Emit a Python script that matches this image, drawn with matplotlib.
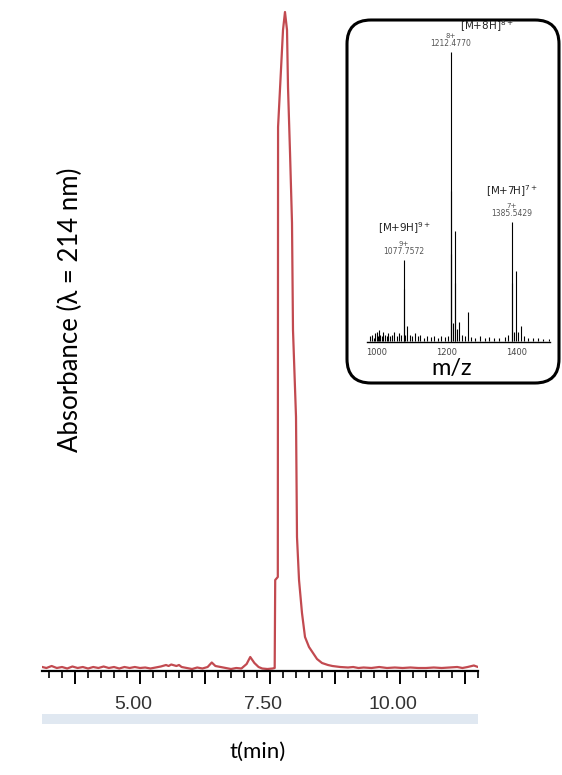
import matplotlib
matplotlib.use("Agg")
import matplotlib.pyplot as plt
import matplotlib.transforms as mtransforms
from matplotlib.patches import FancyBboxPatch, Rectangle
from matplotlib.ticker import MultipleLocator, FuncFormatter

# HPLC trace (time in min, absorbance in arbitrary units)
t_min = [3.12, 3.2, 3.3, 3.4, 3.5, 3.6, 3.7, 3.8, 3.9, 4.0, 4.1, 4.2, 4.3, 4.4,
         4.5, 4.6, 4.7, 4.8, 4.9, 5.0, 5.1, 5.2, 5.3, 5.4, 5.5, 5.55, 5.6, 5.7,
         5.75, 5.8, 5.9, 6.0, 6.1, 6.2, 6.3, 6.38, 6.45, 6.55, 6.65, 6.75, 6.85,
         6.95, 7.05, 7.12, 7.2, 7.28, 7.35, 7.45, 7.55, 7.59, 7.6, 7.65, 7.655,
         7.75, 7.788, 7.827, 7.846, 7.885, 7.923, 7.942, 8.0, 8.019, 8.058,
         8.115, 8.173, 8.25, 8.327, 8.404, 8.5, 8.615, 8.7, 8.85, 9.0, 9.1, 9.2,
         9.3, 9.45, 9.6, 9.75, 9.9, 10.05, 10.2, 10.35, 10.5, 10.65, 10.8,
         10.95, 11.1, 11.2, 11.3, 11.42, 11.5]
absorb = [2, 1, 3, 1, 2, 0.5, 2.5, 1, 2, 0.5, 2, 1, 2.5, 1,
          2, 0.5, 2, 1, 2, 1, 1.5, 0.5, 1.5, 2.5, 4, 3, 4.5, 3,
          4, 2, 1, 0, 1.5, 0.5, 2, 6.5, 3, 2, 1, 0, 1,
          0.5, 5, 12, 6, 2, 0.5, 0, 0.5, 1, 89, 92, 542,
          639, 657, 639, 582, 516, 446, 339, 252, 132, 89,
          56, 32, 22, 16, 10, 6, 4, 3, 2, 1.5, 2, 1,
          1.5, 1, 2, 1, 1.5, 1, 1.5, 1, 1, 1.5, 1,
          1.5, 2, 1, 2, 3.5, 2]

# ESI-MS spectrum (m/z, relative intensity %)
mz = [982, 988, 993, 997, 1001, 1004, 1008, 1012, 1016, 1020, 1025, 1030,
      1035, 1040, 1046, 1052, 1058, 1064, 1070, 1077.76, 1078.4, 1083, 1089,
      1095, 1102, 1110, 1118, 1126, 1135, 1145, 1155, 1165, 1175, 1185, 1195,
      1203, 1212.48, 1213.0, 1213.5, 1218, 1224, 1225, 1230, 1236, 1245, 1252,
      1260, 1270, 1282, 1295, 1308, 1320, 1335, 1350, 1365, 1375, 1385.54,
      1386.2, 1391, 1397, 1403, 1411, 1420, 1432, 1445, 1460, 1475, 1490]
intensity = [1.5, 2, 1, 2.5, 3, 1.5, 3.5, 2, 1.5, 3, 2, 1.5,
             2.5, 1.5, 2, 3, 1.5, 2.5, 2, 28, 18, 2, 5,
             2, 1.5, 2.5, 1.5, 2, 1, 1.5, 1.2, 1.5, 1, 1.5, 1.2,
             1.5, 100, 52, 30, 6, 38, 20, 4, 6.5, 2, 1.5,
             10, 1.2, 1, 1.5, 1, 1.2, 0.8, 1, 1.2, 2, 41,
             20, 3, 24, 3, 5, 1.5, 1, 0.8, 1, 0.6, 0.5]

ion_labels = ["[M+9H]$^{9+}$", "[M+8H]$^{8+}$", "[M+7H]$^{7+}$"]
charges = ["9+", "8+", "7+"]
ion_mz = ["1077.7572", "1212.4770", "1385.5429"]

fig = plt.figure(figsize=(5.62, 7.75), dpi=100)

# main chromatogram
ax = fig.add_axes([42 / 562, 1 - 671 / 775, 436 / 562, 671 / 775])
ax.plot(t_min, absorb, color="#c24a50", lw=1.6)
ax.set_xlim(3.115, 11.5)
ax.set_ylim(-2, 669)
for s in ["top", "left", "right"]:
    ax.spines[s].set_visible(False)
ax.spines["bottom"].set_linewidth(1.6)
ax.set_yticks([])
ax.xaxis.set_major_locator(MultipleLocator(1.25))
ax.xaxis.set_minor_locator(MultipleLocator(0.25))
ax.xaxis.set_major_formatter(FuncFormatter(
    lambda v, p: f"{v:.2f}" if 4.9 < v < 10.1 and abs(v / 2.5 - round(v / 2.5)) < 1e-6 else ""))
ax.tick_params(axis="x", which="major", direction="out", length=9, width=1.4,
               pad=9, labelsize=14, labelcolor="#333333")
ax.tick_params(axis="x", which="minor", direction="out", length=5, width=1.2)
shift = mtransforms.ScaledTranslation(-7 / 100, 0, fig.dpi_scale_trans)
for lbl in ax.get_xticklabels():
    lbl.set_fontfamily("Liberation Sans")
    lbl.set_transform(lbl.get_transform() + shift)

# light band under the tick labels
fig.add_artist(Rectangle((42 / 562, 1 - 724 / 775), 436 / 562, 10 / 775,
                         transform=fig.transFigure, color="#e0e8f1", lw=0))

fig.text(70 / 562, 1 - 310 / 775, "Absorbance (\u03bb = 214 nm)", rotation=90,
         ha="center", va="center", fontsize=18.5, family="Lato")
fig.text(258 / 562, 1 - 752 / 775, "t(min)", ha="center", va="center",
         fontsize=16, family="Lato")

# inset frame
box = FancyBboxPatch((3.47, 3.92), 2.12, 3.63, boxstyle="round,pad=0,rounding_size=0.24",
                     transform=fig.dpi_scale_trans, fc="white", ec="black", lw=2.2)
fig.add_artist(box)

ins = fig.add_axes([367 / 562, 1 - 342 / 775, 183 / 562, 297 / 775], zorder=3)
ins.patch.set_alpha(0)
ins.vlines(mz, 0, intensity, color="black", lw=0.8)
ins.set_xlim(974, 1494)
ins.set_ylim(-0.5, 102.5)
for s in ["top", "left", "right"]:
    ins.spines[s].set_visible(False)
ins.spines["bottom"].set_linewidth(1.0)
ins.set_yticks([])
ins.set_xticks([1000, 1200, 1400])
ins.tick_params(axis="x", length=0, pad=4, labelsize=6, labelcolor="#444444")

ann_pos = [(1077.76, 28), (1212.48, 100), (1385.54, 41)]
for (x, y), z, m in zip(ann_pos, charges, ion_mz):
    ins.annotate(m, (x, y), xytext=(0, 3), textcoords="offset points",
                 ha="center", va="bottom", fontsize=5.5, color="#555555")
    ins.annotate(z, (x, y), xytext=(0, 9.5), textcoords="offset points",
                 ha="center", va="bottom", fontsize=5, color="#555555")
ins.annotate(ion_labels[0], ann_pos[0], xytext=(1, 17), textcoords="offset points",
             ha="center", va="bottom", fontsize=7.5, color="#222222")
ins.annotate(ion_labels[1], ann_pos[1], xytext=(26, 13), textcoords="offset points",
             ha="center", va="bottom", fontsize=7.5, color="#222222")
ins.annotate(ion_labels[2], ann_pos[2], xytext=(0, 17), textcoords="offset points",
             ha="center", va="bottom", fontsize=7.5, color="#222222")

fig.text(452 / 562, 1 - 369 / 775, "m/z", ha="center", va="center",
         fontsize=17, family="Lato")

fig.savefig("out.png", dpi=100)
